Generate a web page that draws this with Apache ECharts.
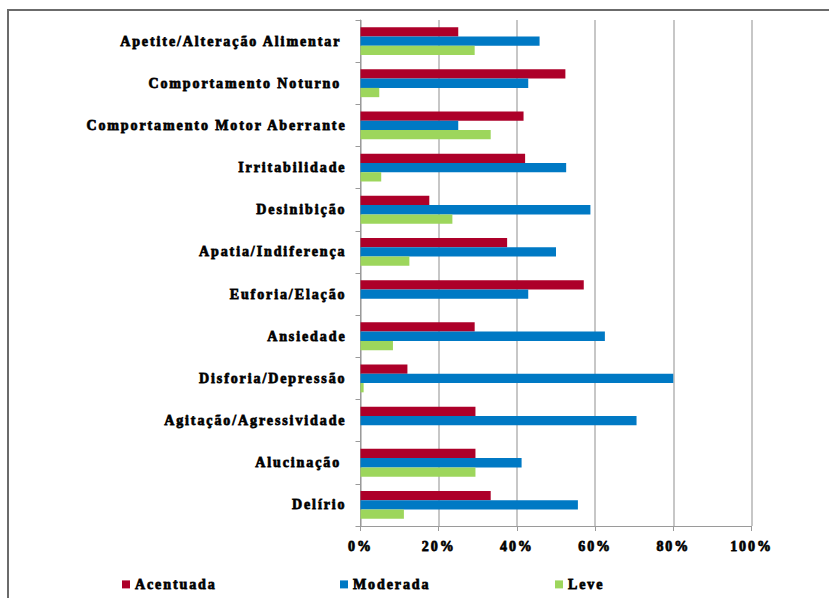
<!DOCTYPE html>
<html>
<head>
<meta charset="utf-8">
<script src="https://cdn.jsdelivr.net/npm/echarts@6/dist/echarts.min.js"></script>
<style>
  html, body { margin: 0; padding: 0; background: #ffffff; }
  #chart { width: 829px; height: 598px; }
  /* wide-set serif lettering used across the chart */
  #chart svg text { letter-spacing: 1.9px; font-family: "Liberation Serif", "Times New Roman", serif !important; }
</style>
</head>
<body>
<div id="chart"></div>
<script>
// Sintomas neuropsiquiátricos por gravidade (% dos casos)
const categories = [
  'Apetite/Alteração Alimentar ',
  'Comportamento Noturno ',
  'Comportamento Motor Aberrante',
  'Irritabilidade',
  'Desinibição',
  'Apatia/Indiferença',
  'Euforia/Elação',
  'Ansiedade',
  'Disforia/Depressão',
  'Agitação/Agressividade',
  'Alucinação ',
  'Delírio'
];
const acentuada = [25.0, 52.4, 41.7, 42.1, 17.6, 37.5, 57.1, 29.2, 12.0, 29.4, 29.4, 33.3];
const moderada  = [45.8, 42.9, 25.0, 52.6, 58.8, 50.0, 42.9, 62.5, 80.0, 70.6, 41.2, 55.6];
const leve      = [29.2, 4.8, 33.3, 5.3, 23.5, 12.5, 0, 8.3, 0.8, 0, 29.4, 11.1];
const xTicks = { min: 0, max: 100, step: 20 };

const serif = 'Liberation Serif, Times New Roman, serif';
const textBase = {
  fontFamily: serif, fontWeight: 'bold', fontSize: 14, color: '#000000',
  textBorderColor: '#1a1a1a', textBorderWidth: 0.8
};

const chart = echarts.init(document.getElementById('chart'), null, { renderer: 'svg' });

function legendAt(name, left) {
  return {
    data: [name],
    left: left,
    top: 577,
    padding: 0,
    icon: 'rect',
    itemWidth: 8,
    itemHeight: 8,
    itemGap: 0,
    selectedMode: false,
    textStyle: textBase
  };
}

chart.setOption({
  backgroundColor: '#ffffff',
  animation: false,
  graphic: [{
    type: 'rect',
    silent: true,
    shape: { x: 8, y: 10, width: 900, height: 700 },
    style: { fill: 'none', stroke: '#6b6b6b', lineWidth: 2 }
  }],
  legend: [
    legendAt('Acentuada', 122),
    legendAt('Moderada', 340),
    legendAt('Leve', 555)
  ],
  grid: { left: 360.5, right: 77.5, top: 20, bottom: 72, containLabel: false },
  xAxis: {
    type: 'value',
    min: xTicks.min,
    max: xTicks.max,
    interval: xTicks.step,
    axisLine: { show: true, lineStyle: { color: '#9a9a9a', width: 1 } },
    axisTick: { show: true, length: 5, lineStyle: { color: '#9a9a9a' } },
    splitLine: { show: true, lineStyle: { color: '#b4b4b4', width: 1.5 } },
    axisLabel: Object.assign({ margin: 13, formatter: '{value}%' }, textBase)
  },
  yAxis: {
    type: 'category',
    inverse: true,
    data: categories,
    axisLine: { show: true, lineStyle: { color: '#9a9a9a', width: 1 } },
    axisTick: { show: true, length: 5, lineStyle: { color: '#9a9a9a' } },
    splitLine: { show: false },
    axisLabel: Object.assign({ margin: 14 }, textBase)
  },
  series: [
    { name: 'Acentuada', type: 'bar', data: acentuada, barGap: '0%', barCategoryGap: '34%',
      itemStyle: { color: '#ad0029' } },
    { name: 'Moderada', type: 'bar', data: moderada, barGap: '0%', barCategoryGap: '34%',
      itemStyle: { color: '#0079c4' } },
    { name: 'Leve', type: 'bar', data: leve, barGap: '0%', barCategoryGap: '34%',
      itemStyle: { color: '#9dd65c' } }
  ]
});
</script>
</body>
</html>
